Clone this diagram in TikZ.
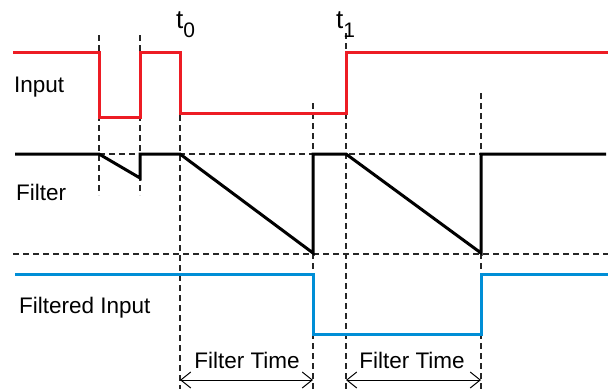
\documentclass[tikz,border=0pt]{standalone}
\usepackage{fontspec}
\setmainfont{Liberation Sans}
\usetikzlibrary{arrows.meta}
\definecolor{sigred}{RGB}{237,28,36}
\definecolor{sigblue}{RGB}{0,142,214}
\begin{document}
\begin{tikzpicture}[x=1pt,y=-1pt,
  sig/.style={line width=3pt, line join=miter, line cap=butt},
  guide/.style={line width=1.3pt, dash pattern=on 6pt off 4pt, black!85},
  lbl/.style={font=\fontsize{22.5}{23}\selectfont, inner sep=0pt, anchor=base west},
  tlbl/.style={font=\fontsize{26}{26}\selectfont, inner sep=0pt, anchor=base west},
  spanarrow/.style={line width=1pt, {Straight Barb[length=10pt,width=16pt]}-{Straight Barb[length=10pt,width=16pt]}}]
\useasboundingbox (0,0) rectangle (608,389);
% guide lines
\draw[guide] (99,35) -- (99,195);
\draw[guide] (140,35) -- (140,195);
\draw[guide] (180,95) -- (180,389);
\draw[guide] (313,103) -- (313,389);
\draw[guide] (346,33) -- (346,389);
\draw[guide] (481,93) -- (481,389);
\draw[guide] (99,154) -- (608,154);
\draw[guide] (13,254) -- (608,254);
% signals
\draw[sig, sigred] (13,52) -- (99,52) -- (99,117) -- (140,117) -- (140,52) -- (180,52) -- (180,113) -- (346,113) -- (346,52) -- (608,52);
\draw[sig, black] (15,154) -- (99,154) -- (140,178) -- (140,154) -- (180,154) -- (313,253) -- (313,154) -- (346,154) -- (481,253) -- (481,154) -- (606,154);
\draw[sig, sigblue] (15,274) -- (313,274) -- (313,334) -- (481,334) -- (481,274) -- (608,274);
% labels
\node[lbl] (input) at (14,92) {Input};
\node[lbl] (filter) at (16,200) {Filter};
\node[lbl] (filtered) at (19,313) {Filtered Input};
\node[tlbl] (t0) at (176,28) {t\raisebox{-9pt}{\fontsize{21}{21}\selectfont 0}};
\node[tlbl] (t1) at (336,28) {t\raisebox{-9pt}{\fontsize{21}{21}\selectfont 1}};
% filter time spans
\coordinate (a1) at (180,380);
\coordinate (b1) at (313,380);
\coordinate (a2) at (346,380);
\coordinate (b2) at (481,380);
\draw[spanarrow] (a1) -- (b1);
\draw[spanarrow] (a2) -- (b2);
\node[lbl, anchor=base] (ft1) at (247,368) {Filter Time};
\node[lbl, anchor=base] (ft2) at (412,368) {Filter Time};
\end{tikzpicture}
\end{document}
